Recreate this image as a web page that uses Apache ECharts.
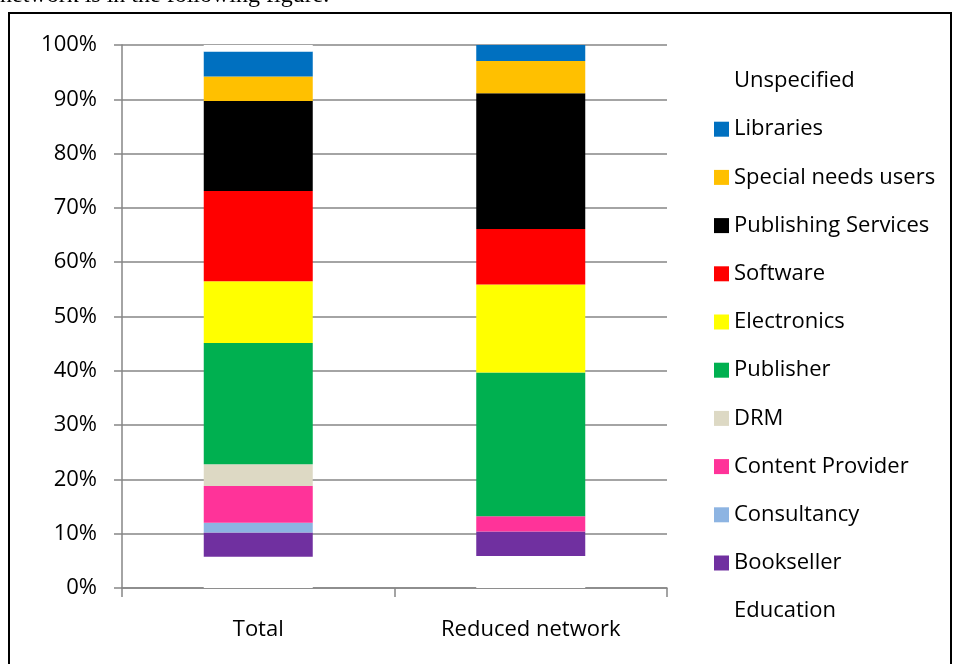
<!DOCTYPE html>
<html>
<head>
<meta charset="utf-8">
<script src="https://cdn.jsdelivr.net/npm/echarts@6/dist/echarts.min.js"></script>
<style>
  html, body { margin: 0; padding: 0; background: #fff; }
  #main { width: 956px; height: 664px; }
</style>
</head>
<body>
<div id="main"></div>
<script>
// categories on the x axis
const categories = ['Total', 'Reduced network'];
// series, bottom of the stack first
const seriesNames = ['Education', 'Bookseller', 'Consultancy', 'Content Provider', 'DRM', 'Publisher',
  'Electronics', 'Software', 'Publishing Services', 'Special needs users', 'Libraries', 'Unspecified'];
const seriesColors = ['#ffffff', '#7030A0', '#8DB4E2', '#FF3399', '#DDD9C4', '#00B050',
  '#FFFF00', '#FF0000', '#000000', '#FFC000', '#0070C0', '#ffffff'];
// share in % (Total, Reduced network)
const education = [5.75, 5.9];
const bookseller = [4.45, 4.5];
const consultancy = [1.8, 0];
const contentProvider = [6.8, 2.8];
const drm = [4.0, 0];
const publisher = [22.3, 26.5];
const electronics = [11.4, 16.2];
const software = [16.6, 10.2];
const publishingServices = [16.6, 25.0];
const specialNeeds = [4.5, 5.95];
const libraries = [4.6, 2.95];
const unspecified = [1.2, 0];
const yTicks = [0, 10, 20, 30, 40, 50, 60, 70, 80, 90, 100];

const values = [education, bookseller, consultancy, contentProvider, drm, publisher,
  electronics, software, publishingServices, specialNeeds, libraries, unspecified];

const font = "'Open Sans', 'Noto Sans', sans-serif";

var myChart = echarts.init(document.getElementById('main'), null, { renderer: 'canvas' });

var option = {
  animation: false,
  backgroundColor: '#fff',
  graphic: [
    {
      type: 'rect',
      shape: { x: 9, y: 13, width: 942, height: 670 },
      style: { fill: 'none', stroke: '#000', lineWidth: 2 },
      silent: true
    },
    {
      type: 'text',
      left: 0,
      top: -16,
      style: {
        text: 'network is in the following figure.',
        font: "24px 'Liberation Serif', serif",
        fill: '#000'
      },
      silent: true
    }
  ],
  grid: { left: 122, right: 289, top: 45, bottom: 76 },
  legend: {
    orient: 'vertical',
    left: 709,
    top: 65,
    itemWidth: 15,
    itemHeight: 15,
    itemGap: 26.2,
    icon: 'rect',
    data: seriesNames.slice().reverse(),
    textStyle: { fontFamily: font, fontSize: 22, color: '#000', lineHeight: 22, padding: [0, 0, 0, 0] },
    selectedMode: false
  },
  xAxis: {
    type: 'category',
    data: categories,
    axisLine: { lineStyle: { color: '#868686', width: 1.5 } },
    axisTick: { show: true, length: 9, lineStyle: { color: '#868686', width: 1.5 } },
    axisLabel: { fontFamily: font, fontSize: 22, color: '#000', margin: 31 }
  },
  yAxis: {
    type: 'value',
    min: 0,
    max: 100,
    interval: 10,
    axisLine: { show: true, lineStyle: { color: '#868686', width: 1.5 } },
    axisTick: { show: true, length: 8, lineStyle: { color: '#868686', width: 1.5 } },
    splitLine: { lineStyle: { color: '#868686', width: 1.5 } },
    axisLabel: {
      fontFamily: font, fontSize: 22, color: '#000', margin: 25,
      formatter: v => (yTicks.includes(v) ? v + '%' : '')
    }
  },
  series: seriesNames.map((name, i) => ({
    name: name,
    type: 'bar',
    stack: 'total',
    barWidth: '40%',
    data: values[i],
    itemStyle: { color: seriesColors[i] },
    emphasis: { disabled: true }
  }))
};

option && myChart.setOption(option);
</script>
</body>
</html>
